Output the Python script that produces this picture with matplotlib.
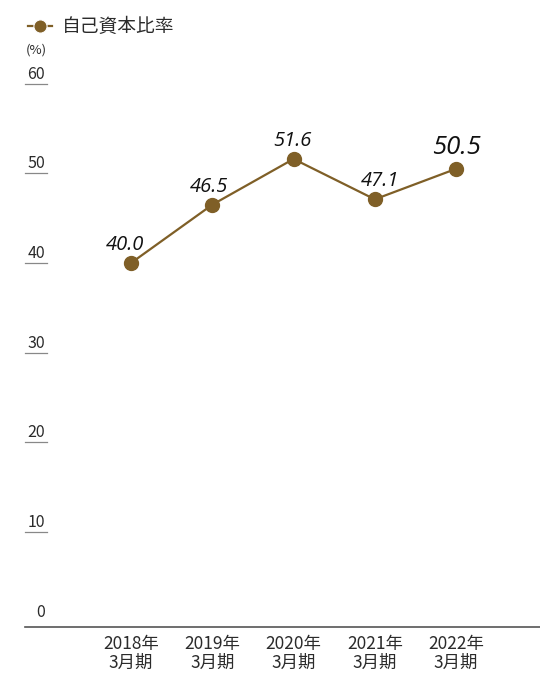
import matplotlib.pyplot as plt

plt.rcParams['font.family'] = ['Noto Sans CJK JP', 'DejaVu Sans']

# equity ratio by fiscal year
years = ["2018年\n3月期", "2019年\n3月期", "2020年\n3月期", "2021年\n3月期", "2022年\n3月期"]
ratio = [40.0, 46.5, 51.6, 47.1, 50.5]
yticks = [0, 10, 20, 30, 40, 50, 60]

LINE = "#7f5f27"
TEXT = "#2b2b2b"

fig = plt.figure(figsize=(5.4, 6.73), dpi=100)
ax = fig.add_axes([25 / 540, 46 / 673, 515 / 540, 587 / 673])
ax.set_xlim(-1.305, 5.033)
ax.set_ylim(-0.6, 64.87)
ax.axis("off")

x = list(range(len(ratio)))
ax.plot(x, ratio, color=LINE, lw=1.6, marker="o", ms=10, mfc=LINE, mec=LINE, zorder=3)

# value labels, latest year emphasised
dx = [-4.5, -2.5, -1, 3.5, 0]
for i, v in enumerate(ratio):
    last = i == len(ratio) - 1
    ax.annotate(f"{v:.1f}", (i, v), xytext=(dx[i], 11 if last else 9.5),
                textcoords="offset points", ha="center", va="baseline",
                family="Open Sans", style="italic",
                fontsize=18.5 if last else 14.5,
                fontweight="medium" if last else "normal", color="#111111")

# y ticks: label sitting on a short underline
for t in yticks:
    ax.text(0.039, t + 0.55, str(t), transform=ax.get_yaxis_transform(),
            ha="right", va="baseline", fontsize=11.5, color=TEXT)
    if t > 0:
        ax.plot([0, 0.043], [t, t], transform=ax.get_yaxis_transform(),
                color="#888888", lw=0.9, clip_on=False)

# baseline
ax.axhline(-0.6, xmin=0, xmax=1, color="#555555", lw=1.2, clip_on=False)

# x labels
for i, lab in enumerate(years):
    fig.text((25 + (i + 1.305) * 81.25) / 540, 1 - 635 / 673, lab,
             ha="center", va="top", fontsize=12.5, color=TEXT, linespacing=1.05)

# legend and unit
fig.text(26 / 540, 1 - 50 / 673, "(%)", ha="left", va="center", fontsize=9.5, color=TEXT)
fig.lines.append(plt.Line2D([28 / 540, 52 / 540], [1 - 26 / 673, 1 - 26 / 673],
                            transform=fig.transFigure, color=LINE, lw=1.6))
fig.lines.append(plt.Line2D([40 / 540], [1 - 26 / 673], transform=fig.transFigure,
                            color=LINE, marker="o", ms=9.5, ls="none",
                            mec="white", mew=0.8))
fig.text(62 / 540, 1 - 26 / 673, "自己資本比率", ha="left", va="center",
         fontsize=13.5, color=TEXT)

fig.savefig("out.png", dpi=100)
